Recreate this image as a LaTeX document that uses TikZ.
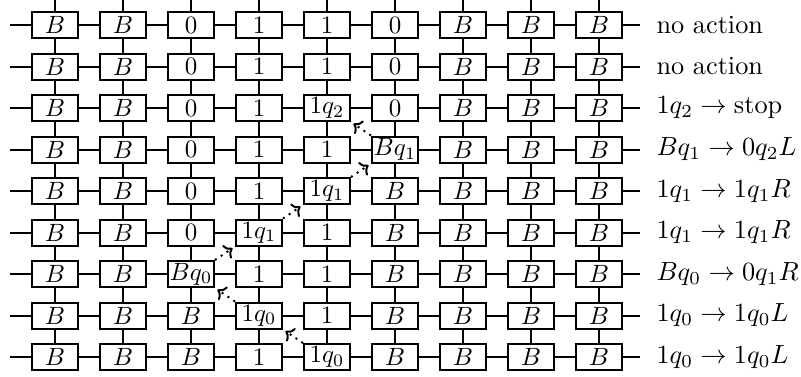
\documentclass[tikz,border=0pt]{standalone}
\usetikzlibrary{arrows.meta}
\begin{document}
\begin{tikzpicture}[x=0.4pt, y=-0.4pt,
    cell/.style={draw, thick, minimum width=18.4pt, minimum height=10.4pt, inner sep=0pt},
    wire/.style={thick},
    lbl/.style={anchor=west, inner sep=0pt, scale=1.05},
    move/.style={thick, dotted, -{To[length=3pt, width=6.4pt]}, shorten >=1.2pt}
]
\useasboundingbox (0,0) rectangle (801,376);

% tape cells, one row per time step (top = last)
\foreach \row [count=\j] in {
    {$B$,$B$,0,1,1,0,$B$,$B$,$B$},
    {$B$,$B$,0,1,1,0,$B$,$B$,$B$},
    {$B$,$B$,0,1,$1q_2$,0,$B$,$B$,$B$},
    {$B$,$B$,0,1,1,$Bq_1$,$B$,$B$,$B$},
    {$B$,$B$,0,1,$1q_1$,$B$,$B$,$B$,$B$},
    {$B$,$B$,0,$1q_1$,1,$B$,$B$,$B$,$B$},
    {$B$,$B$,$Bq_0$,1,1,$B$,$B$,$B$,$B$},
    {$B$,$B$,$B$,$1q_0$,1,$B$,$B$,$B$,$B$},
    {$B$,$B$,$B$,1,$1q_0$,$B$,$B$,$B$,$B$}} {
    \foreach \c [count=\i] in \row {
        \node[cell] (c-\i-\j) at ({55+68*(\i-1)}, {25+41.5*(\j-1)}) {\c};
    }
    \coordinate (l-\j) at (10, {25+41.5*(\j-1)});
    \coordinate (r-\j) at (640, {25+41.5*(\j-1)});
}

% rule applied at each step
\foreach \txt [count=\j] in {
    no action, no action,
    $1q_2 \to \mathrm{stop}$,
    $Bq_1 \to 0q_2L$,
    $1q_1 \to 1q_1R$,
    $1q_1 \to 1q_1R$,
    $Bq_0 \to 0q_1R$,
    $1q_0 \to 1q_0L$,
    $1q_0 \to 1q_0L$} {
    \node[lbl] (lbl-\j) at (656, {25+41.5*(\j-1)}) {\txt};
}

% horizontal wires
\foreach \j in {1,...,9} {
    \draw[wire] (l-\j) -- (c-1-\j);
    \draw[wire] (c-9-\j) -- (r-\j);
    \foreach \i in {1,...,8} {
        \pgfmathtruncatemacro{\k}{\i+1}
        \draw[wire] (c-\i-\j) -- (c-\k-\j);
    }
}

% vertical wires
\foreach \i in {1,...,9} {
    \coordinate (t-\i) at ({55+68*(\i-1)}, 0);
    \draw[wire] (t-\i) -- (c-\i-1);
    \foreach \j in {1,...,8} {
        \pgfmathtruncatemacro{\k}{\j+1}
        \draw[wire] (c-\i-\j) -- (c-\i-\k);
    }
}

% head moves
\draw[move] (c-5-9.north west) -- (c-4-8.south east);
\draw[move] (c-4-8.north west) -- (c-3-7.south east);
\draw[move] (c-3-7.north east) -- (c-4-6.south west);
\draw[move] (c-4-6.north east) -- (c-5-5.south west);
\draw[move] (c-5-5.north east) -- (c-6-4.south west);
\draw[move] (c-6-4.north west) -- (c-5-3.south east);
\end{tikzpicture}
\end{document}
